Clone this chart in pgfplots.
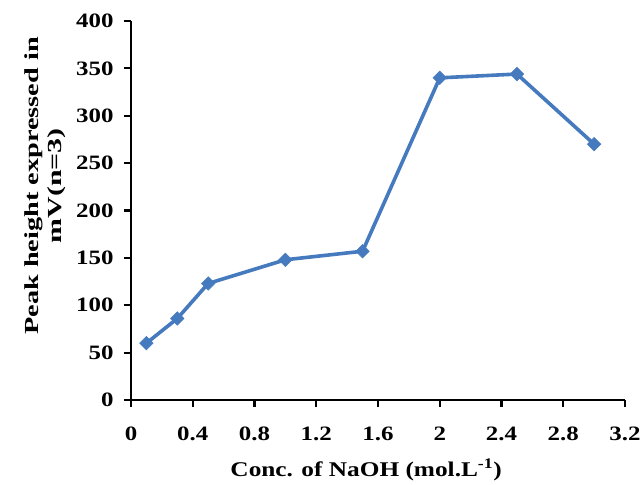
\documentclass[border=0pt]{standalone}
\usepackage{fontspec}
\setmainfont{Liberation Serif}
\usepackage{graphicx}
\usepackage{pgfplots}
\pgfplotsset{compat=1.18}
\definecolor{lineblue}{RGB}{70,122,190}
\newcommand{\T}[1]{\scalebox{1.22}[1]{#1}}
\begin{document}
\begin{tikzpicture}
\begin{axis}[
  scale only axis,
  width=494bp, height=379bp,
  xmin=0, xmax=3.2, ymin=0, ymax=400,
  axis lines=left,
  axis line style={line width=2.2bp, -},
  xtick={0,0.4,0.8,1.2,1.6,2,2.4,2.8,3.2},
  xticklabels={\T{0},\T{0.4},\T{0.8},\T{1.2},\T{1.6},\T{2},\T{2.4},\T{2.8},\T{3.2}},
  ytick={0,50,100,150,200,250,300,350,400},
  yticklabels={\T{0},\T{50},\T{100},\T{150},\T{200},\T{250},\T{300},\T{350},\T{400}},
  tick style={line width=2.2bp, black},
  tick align=outside,
  major tick length=7bp,
  tick label style={font=\fontsize{20.5}{23}\selectfont\bfseries},
  xticklabel style={yshift=-16bp},
  yticklabel style={xshift=-7bp},
  xlabel={\scalebox{1.21}[1]{Conc. of NaOH (mol.L\textsuperscript{-1})}},
  xlabel style={font=\fontsize{21}{24}\selectfont\bfseries,
    at={(axis description cs:0.476,-0.185)}, anchor=center},
  ylabel={\begin{tabular}{c}\scalebox{1.42}[1]{Peak height expressed in}\\[1bp]
    \scalebox{1.5}[1]{mV(n=3)}\end{tabular}},
  ylabel style={font=\fontsize{20}{22}\selectfont\bfseries,
    at={(axis description cs:-0.172,0.565)}, anchor=center},
  clip=false,
]
\addplot[color=lineblue, line width=3.6bp, mark=square*, mark size=4.8bp,
  mark options={rotate=45, fill=lineblue, draw=lineblue, line width=0.5bp}]
  coordinates {(0.1,60) (0.3,86) (0.5,123) (1.0,148) (1.5,157) (2.0,340) (2.5,344) (3.0,270)};
\end{axis}
\pgfresetboundingbox
\path (-131bp,-85bp) rectangle (510bp,400bp);
\end{tikzpicture}
\end{document}
